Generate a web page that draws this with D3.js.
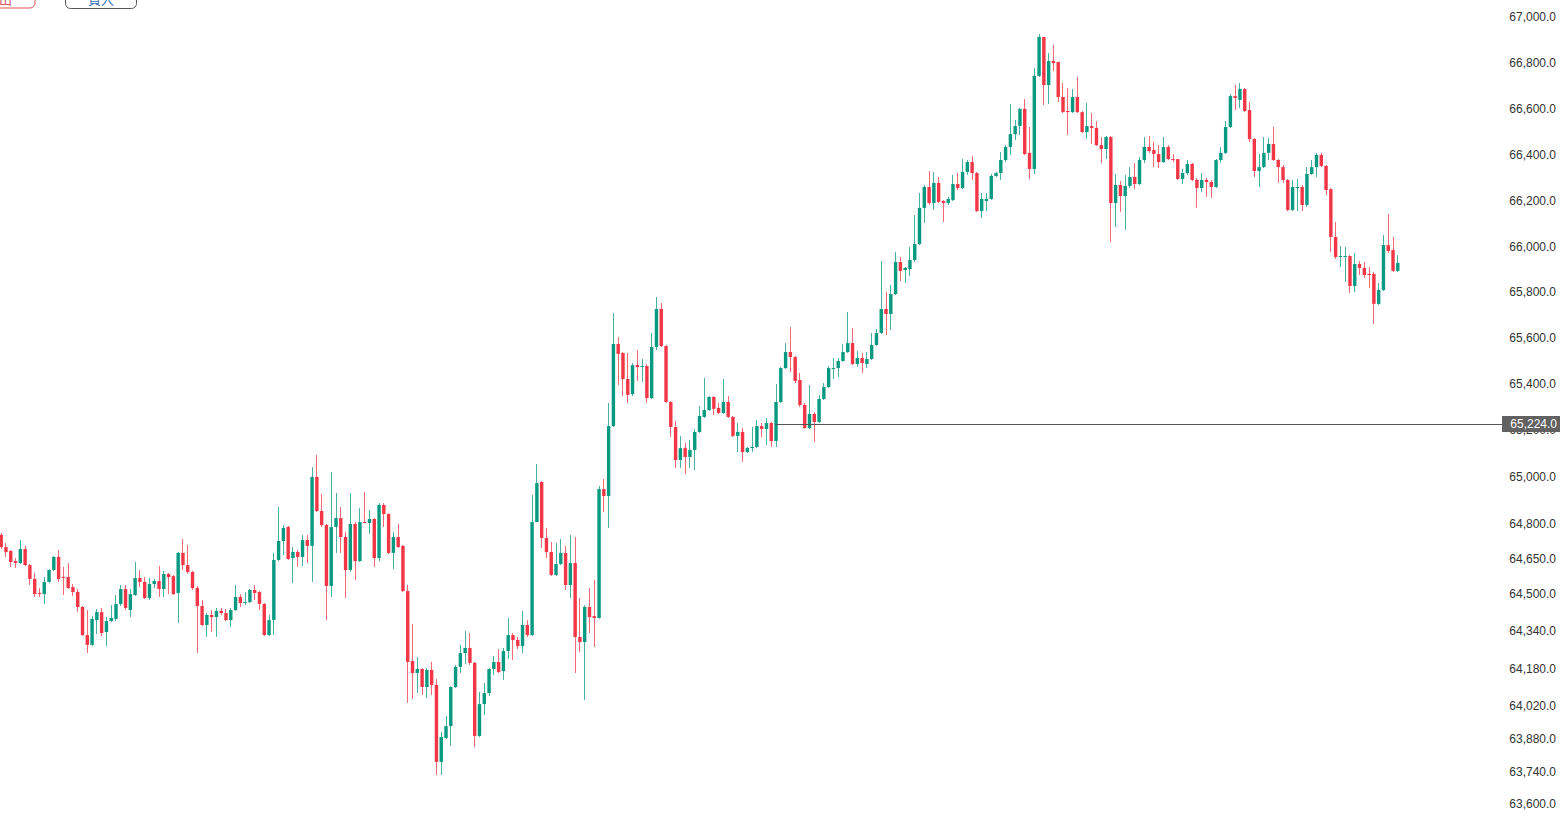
<!DOCTYPE html>
<html>
<head>
<meta charset="utf-8">
<script src="https://cdn.jsdelivr.net/npm/d3@7"></script>
<style>
  html, body { margin: 0; padding: 0; background: #ffffff; overflow: hidden; }
  svg { display: block; }
  text { font-family: "Liberation Sans", Arial, "Noto Sans CJK TC", sans-serif; }
</style>
</head>
<body>
<svg id="chart" width="1560" height="828"></svg>
<script>
// ---------------- data ----------------
const open = [
64750,64698,64681,64638,64630,64690,64621,64562,64502,64497,
64549,64600,64656,64570,64570,64527,64506,64442,64322,64280,
64386,64420,64335,64382,64391,64455,64519,64429,64493,64566,
64549,64480,64540,64553,64519,64583,64574,64502,64673,64621,
64592,64523,64446,64365,64408,64399,64425,64416,64386,64429,
64485,64459,64463,64515,64506,64455,64322,64386,64643,64724,
64784,64651,64677,64656,64728,64703,64998,64852,64792,64532,
64784,64822,64741,64600,64797,64638,64805,64801,64818,64651,
64878,64839,64673,64741,64703,64510,64211,64160,64177,64100,
64173,64109,63780,63882,63933,64100,64186,64245,64267,64203,
63891,64027,64074,64177,64207,64168,64254,64322,64301,64275,
64365,64322,64805,64976,64737,64677,64579,64626,64673,64536,
64630,64314,64292,64442,64403,64395,64946,64916,65215,65573,
65534,65420,65355,65481,65473,65477,65337,65560,65726,65564,
65320,65211,65070,65121,65083,65113,65190,65255,65285,65342,
65294,65272,65320,65255,65173,65190,65104,65121,65126,65215,
65203,65228,65151,65320,65468,65538,65516,65416,65307,65207,
65268,65233,65333,65385,65464,65468,65499,65538,65577,65486,
65512,65486,65508,65569,65621,65726,65704,65791,65931,65896,
65900,65940,66009,66167,66258,66188,66276,66197,66188,66201,
66271,66254,66324,66367,66319,66153,66197,66206,66306,66319,
66376,66433,66489,66524,66599,66407,66337,66743,66913,66703,
66808,66804,66651,66590,66585,66651,66585,66498,66524,66516,
66441,66424,66476,66188,66267,66219,66263,66302,66271,66376,
66433,66420,66402,66367,66433,66380,66380,66293,66319,66359,
66289,66254,66289,66280,66258,66376,66407,66520,66655,66638,
66686,66594,66468,66328,66345,66407,66446,66376,66345,66289,
66158,66254,66258,66180,66315,66345,66398,66350,66249,66040,
65953,65953,65957,65826,65922,65905,65879,65879,65748,65809,
66005,65983,65892
];
const high = [
64758,64715,64685,64651,64728,64703,64626,64587,64523,64570,
64604,64660,64685,64613,64630,64540,64519,64446,64429,64403,
64433,64438,64399,64450,64493,64536,64536,64519,64634,64600,
64570,64566,64562,64617,64596,64587,64579,64677,64733,64707,
64596,64532,64472,64416,64429,64438,64438,64433,64438,64536,
64497,64506,64519,64536,64510,64459,64408,64673,64869,64792,
64788,64698,64685,64750,64750,65040,65092,64925,64797,65019,
64929,64869,64762,64929,64805,64865,64933,64856,64822,64886,
64886,64844,64762,64797,64707,64536,64369,64228,64181,64181,
64207,64134,63908,63976,64104,64194,64280,64339,64331,64207,
64079,64117,64181,64232,64262,64267,64395,64331,64314,64425,
64386,64921,65053,64980,64780,64720,64715,64733,64703,64750,
64741,64480,64450,64523,64557,64959,64989,65316,65708,65604,
65538,65534,65490,65547,65508,65486,65621,65778,65752,65569,
65324,65237,65173,65143,65156,65203,65303,65425,65346,65346,
65316,65420,65346,65259,65228,65207,65126,65211,65241,65228,
65250,65233,65399,65473,65577,65647,65521,65447,65316,65394,
65276,65351,65403,65477,65512,65512,65573,65713,65643,65543,
65534,65538,65621,65639,65935,65800,65831,65975,65953,65909,
65996,66136,66232,66267,66328,66324,66302,66201,66215,66311,
66319,66380,66376,66393,66324,66232,66232,66315,66324,66411,
66441,66620,66551,66603,66642,66520,66777,66926,66913,66843,
66878,66804,66712,66690,66686,66738,66590,66625,66581,66546,
66476,66481,66481,66315,66284,66311,66345,66363,66389,66476,
66481,66455,66441,66476,66441,66402,66380,66337,66376,66363,
66297,66319,66297,66289,66380,66433,66546,66664,66703,66712,
66690,66629,66472,66402,66476,66472,66520,66380,66354,66293,
66289,66293,66267,66345,66376,66407,66407,66354,66254,66105,
66001,65996,65961,65970,65935,65931,65909,65887,65839,66049,
66140,66040,65961
];
const low = [
64690,64656,64613,64609,64626,64617,64536,64485,64485,64455,
64544,64596,64549,64493,64519,64489,64420,64318,64245,64275,
64326,64318,64275,64378,64382,64446,64429,64399,64489,64527,
64476,64472,64523,64485,64485,64497,64493,64374,64600,64583,
64515,64245,64361,64314,64335,64314,64408,64382,64356,64425,
64442,64450,64459,64472,64429,64318,64318,64322,64638,64664,
64643,64544,64613,64617,64630,64549,64848,64784,64386,64485,
64673,64673,64480,64592,64557,64634,64801,64754,64613,64638,
64784,64668,64604,64694,64506,64032,64049,64074,64066,64053,
64066,63724,63724,63878,63848,64096,64160,64198,64194,63844,
63886,63980,64062,64151,64160,64130,64220,64215,64262,64245,
64314,64318,64805,64694,64651,64574,64574,64621,64515,64480,
64160,64250,64044,64331,64271,64391,64848,64780,65211,65394,
65346,65316,65346,65412,65407,65316,65333,65547,65560,65316,
65168,65036,65036,65010,65036,65027,65186,65250,65281,65263,
65268,65268,65250,65168,65104,65062,65100,65104,65121,65168,
65134,65126,65126,65316,65464,65451,65403,65298,65203,65203,
65147,65228,65329,65381,65420,65429,65495,65534,65481,65473,
65447,65468,65503,65564,65617,65612,65634,65787,65848,65839,
65870,65931,66005,66101,66180,66158,66188,66105,66180,66197,
66245,66249,66311,66289,66149,66123,66153,66201,66302,66289,
66367,66398,66463,66485,66398,66293,66315,66738,66616,66620,
66764,66629,66581,66485,66581,66581,66494,66468,66446,66437,
66363,66380,66018,66084,66149,66071,66254,66249,66267,66363,
66407,66345,66341,66363,66376,66367,66289,66271,66311,66284,
66167,66236,66215,66210,66254,66363,66402,66516,66594,66603,
66585,66455,66302,66258,66341,66376,66372,66276,66276,66153,
66153,66153,66153,66171,66311,66302,66345,66223,65975,65944,
65909,65844,65796,65800,65874,65861,65817,65660,65743,65804,
65970,65887,65887
];
const close = [
64698,64677,64634,64630,64690,64621,64562,64497,64497,64549,
64600,64656,64562,64566,64523,64506,64442,64322,64280,64391,
64420,64331,64382,64395,64455,64519,64438,64497,64566,64549,
64480,64540,64553,64519,64583,64570,64497,64673,64621,64592,
64523,64446,64365,64408,64399,64425,64416,64386,64429,64485,
64459,64463,64515,64502,64455,64322,64386,64643,64724,64780,
64647,64677,64656,64728,64703,64998,64852,64792,64532,64784,
64822,64741,64600,64797,64638,64805,64801,64818,64651,64878,
64839,64673,64741,64698,64510,64207,64160,64177,64100,64173,
64109,63780,63886,63933,64100,64186,64245,64267,64203,63891,
64027,64074,64177,64207,64164,64254,64322,64301,64275,64365,
64322,64805,64972,64737,64677,64579,64626,64673,64536,64630,
64314,64292,64442,64399,64395,64946,64916,65215,65573,65530,
65420,65351,65481,65473,65477,65337,65560,65726,65564,65320,
65211,65070,65121,65083,65113,65190,65259,65285,65342,65290,
65272,65320,65255,65173,65190,65104,65121,65126,65215,65203,
65228,65151,65320,65468,65538,65516,65412,65307,65207,65268,
65233,65333,65385,65468,65468,65499,65538,65577,65486,65512,
65490,65508,65569,65621,65726,65704,65791,65931,65892,65905,
65940,66009,66167,66258,66188,66276,66193,66188,66206,66271,
66254,66324,66367,66319,66153,66206,66206,66306,66319,66376,
66433,66489,66524,66599,66402,66337,66743,66913,66703,66808,
66799,66651,66585,66585,66651,66585,66498,66524,66516,66441,
66424,66476,66188,66267,66219,66263,66302,66271,66376,66433,
66415,66402,66367,66433,66380,66376,66293,66319,66359,66289,
66254,66289,66280,66258,66376,66407,66520,66655,66647,66686,
66590,66468,66328,66345,66407,66446,66376,66345,66289,66158,
66258,66258,66180,66315,66345,66398,66350,66245,66040,65953,
65957,65957,65826,65922,65905,65874,65874,65748,65809,66005,
65979,65892,65927
];
const barIndex = open.map((d, i) => i);          // categories: bar number
const yTicks = [67000, 66800, 66600, 66400, 66200, 66000, 65800, 65600, 65400, 65200,
                65000, 64800, 64650, 64500, 64340, 64180, 64020, 63880, 63740, 63600];
const priceLine = 65224;          // horizontal price line value
const priceLineStartBar = 162;    // bar where the line starts
const buttons = ["賣出", "買入"];

// ---------------- layout ----------------
const W = 1560, H = 828;
const svg = d3.select("#chart");
svg.append("rect").attr("width", W).attr("height", H).attr("fill", "#ffffff");

const x = d3.scaleLinear().domain([0, barIndex.length - 1]).range([0.7, 1397.3]);
const y = d3.scaleLinear().domain([63600, priceLine, 67000]).range([804, 424, 17]);

const UP = "#089981", DOWN = "#f23645";
const bodyW = 3.4;

const candles = svg.append("g").selectAll("g")
  .data(barIndex)
  .join("g");

candles.append("line")
  .attr("x1", i => Math.round(x(i)) + 0.5)
  .attr("x2", i => Math.round(x(i)) + 0.5)
  .attr("y1", i => y(high[i]))
  .attr("y2", i => y(low[i]))
  .attr("stroke", i => close[i] >= open[i] ? UP : DOWN)
  .attr("stroke-opacity", 0.75)
  .attr("stroke-width", 1);

candles.append("rect")
  .attr("x", i => x(i) - bodyW / 2 + 0.5)
  .attr("width", bodyW)
  .attr("y", i => y(Math.max(open[i], close[i])))
  .attr("height", i => Math.max(1, Math.abs(y(open[i]) - y(close[i]))))
  .attr("fill", i => close[i] >= open[i] ? UP : DOWN);

// price line
svg.append("line")
  .attr("x1", x(priceLineStartBar))
  .attr("x2", 1502)
  .attr("y1", Math.round(y(priceLine)) + 0.5)
  .attr("y2", Math.round(y(priceLine)) + 0.5)
  .attr("stroke", "#555")
  .attr("stroke-width", 1);

// y axis labels
const axis = d3.axisLeft(y)
  .tickValues(yTicks)
  .tickFormat(d3.format(",.1f"))
  .tickSize(0)
  .tickPadding(0);
const gAxis = svg.append("g").attr("transform", "translate(1556,0)").call(axis);
gAxis.select(".domain").remove();
gAxis.selectAll("text")
  .attr("fill", "#333")
  .style("font-size", "12px")
  .style("font-family", "'Liberation Sans', Arial, sans-serif");

// price label box
const py = y(priceLine);
svg.append("rect")
  .attr("x", 1502).attr("y", py - 8)
  .attr("width", 58).attr("height", 16)
  .attr("fill", "#616161");
svg.append("text")
  .attr("x", 1557).attr("y", py + 4)
  .attr("text-anchor", "end")
  .attr("fill", "#ffffff")
  .style("font-size", "12px")
  .text(d3.format(",.1f")(priceLine));

// top-left buttons (cut off by the top edge)
const btn = svg.append("g");
btn.append("rect").attr("x", -38).attr("y", -22).attr("width", 73).attr("height", 30)
  .attr("rx", 5).attr("fill", "#fff").attr("stroke", "#e0505f").attr("stroke-width", 1);
btn.append("text").attr("x", -1).attr("y", 4).attr("text-anchor", "middle")
  .attr("fill", "#e0505f").style("font-size", "13px").text(buttons[0]);
btn.append("rect").attr("x", 65.5).attr("y", -22).attr("width", 71).attr("height", 30.5)
  .attr("rx", 5).attr("fill", "#fff").attr("stroke", "#555").attr("stroke-width", 1);
btn.append("text").attr("x", 101).attr("y", 4).attr("text-anchor", "middle")
  .attr("fill", "#3b6fb0").style("font-size", "13px").text(buttons[1]);
</script>
</body>
</html>
